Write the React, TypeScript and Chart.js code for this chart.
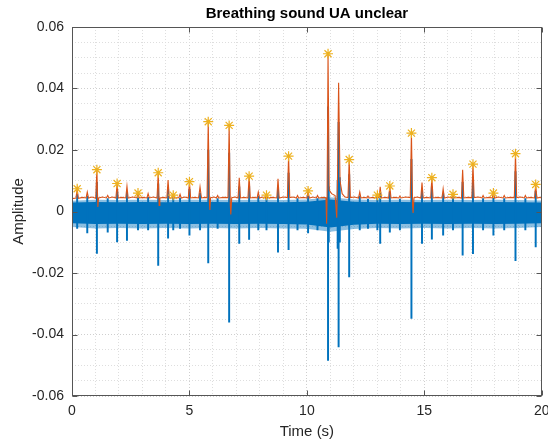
import { useEffect, useRef } from 'react';
import { Chart, registerables } from 'chart.js';

Chart.register(...registerables);

const W = 548;
const H = 446;
const FONT = "'Liberation Sans', Arial, Helvetica, sans-serif";

// Axis ticks that carry labels
const xTicks = [0, 5, 10, 15, 20];
const yTicks = [-0.06, -0.04, -0.02, 0, 0.02, 0.04, 0.06];

// Detected breath peaks (asterisks)
const starTimes = [0.22, 1.06, 1.92, 2.81, 3.67, 4.31, 5.0, 5.8, 6.69, 7.54, 8.28, 9.22, 10.05, 10.9, 11.8, 13.0, 13.53, 14.45, 15.32, 16.22, 17.07, 17.94, 18.88, 19.74];
const starPeaks = [0.0074, 0.0136, 0.0091, 0.006, 0.0126, 0.0053, 0.0097, 0.0292, 0.028, 0.0115, 0.0053, 0.018, 0.0067, 0.0513, 0.0169, 0.0053, 0.0083, 0.0255, 0.011, 0.0056, 0.0154, 0.006, 0.0188, 0.0088];

// Raw signal transients: time, positive excursion, negative excursion
const spikeTimes = [0.22, 0.65, 1.06, 1.52, 1.92, 2.34, 2.81, 3.24, 3.67, 4.09, 4.31, 4.6, 5.0, 5.45, 5.8, 6.2, 6.69, 7.12, 7.54, 7.93, 8.28, 8.77, 9.22, 9.6, 10.05, 10.45, 10.9, 10.93, 11.31, 11.35, 11.4, 11.8, 12.25, 12.6, 13.0, 13.12, 13.53, 13.96, 14.45, 14.9, 15.32, 15.8, 16.22, 16.63, 17.07, 17.5, 17.94, 18.4, 18.88, 19.3, 19.74];
const spikeHigh = [0.0055, 0.005, 0.0095, 0.0042, 0.0068, 0.0062, 0.0048, 0.0046, 0.009, 0.0074, 0.0044, 0.0044, 0.0072, 0.006, 0.02, 0.0042, 0.019, 0.008, 0.0082, 0.005, 0.0044, 0.0076, 0.0125, 0.0042, 0.0054, 0.0042, 0.034, 0.008, 0.01, 0.029, 0.011, 0.012, 0.005, 0.004, 0.0044, 0.0062, 0.0062, 0.004, 0.017, 0.007, 0.008, 0.0058, 0.0045, 0.0095, 0.0105, 0.0042, 0.0048, 0.0042, 0.013, 0.0042, 0.0066];
const spikeLow = [-0.0055, -0.007, -0.0136, -0.0067, -0.0099, -0.0094, -0.006, -0.006, -0.0175, -0.0087, -0.006, -0.0055, -0.0077, -0.006, -0.0167, -0.0055, -0.036, -0.0104, -0.0091, -0.006, -0.006, -0.0132, -0.0124, -0.006, -0.007, -0.006, -0.0484, -0.01, -0.012, -0.044, -0.01, -0.0213, -0.006, -0.0055, -0.006, -0.0104, -0.0067, -0.006, -0.0348, -0.0104, -0.009, -0.0077, -0.006, -0.0142, -0.0137, -0.006, -0.0077, -0.006, -0.016, -0.006, -0.0115];

// Background breathing noise band (solid core and softer fringe)
const bandTimes = [0, 1, 2, 3, 4, 5, 6, 7, 8, 9, 10, 11, 12, 13, 14, 15, 16, 17, 18, 19, 20];
const bandHigh = [0.0029, 0.0031, 0.003, 0.0031, 0.003, 0.0031, 0.0031, 0.003, 0.0031, 0.003, 0.0032, 0.0039, 0.0032, 0.003, 0.0031, 0.003, 0.0031, 0.003, 0.0031, 0.003, 0.0029];
const bandLow = [-0.0038, -0.0041, -0.004, -0.0041, -0.004, -0.0041, -0.004, -0.0041, -0.004, -0.0041, -0.0042, -0.0052, -0.0043, -0.004, -0.0041, -0.004, -0.0041, -0.004, -0.0041, -0.004, -0.0038];
const fringeHigh = [0.0035, 0.0038, 0.0037, 0.0038, 0.0037, 0.0038, 0.0038, 0.0037, 0.0038, 0.0037, 0.0039, 0.0046, 0.0039, 0.0037, 0.0038, 0.0037, 0.0038, 0.0037, 0.0038, 0.0037, 0.0036];
const fringeLow = [-0.005, -0.0055, -0.0054, -0.0055, -0.0054, -0.0055, -0.0054, -0.0055, -0.0054, -0.0055, -0.0056, -0.0066, -0.0057, -0.0054, -0.0055, -0.0054, -0.0055, -0.0054, -0.0055, -0.0054, -0.005];

// Peak envelope of the signal: [time, amplitude]
const envelope: [number, number][] = [
  [0, 0.0042], [0.17, 0.0044], [0.22, 0.0074], [0.27, 0.0043], [0.45, 0.0046], [0.6, 0.0044], [0.65, 0.0063], [0.7, 0.0044],
  [0.85, 0.0047], [1.01, 0.0043], [1.06, 0.0136], [1.1, 0.0015], [1.13, 0.0044], [1.3, 0.0047], [1.46, 0.0044], [1.52, 0.0052],
  [1.57, 0.0044], [1.72, 0.0047], [1.87, 0.0044], [1.92, 0.0091], [1.97, 0.0044], [2.12, 0.0046], [2.29, 0.0044], [2.34, 0.0082],
  [2.39, 0.0044], [2.58, 0.0047], [2.76, 0.0044], [2.81, 0.006], [2.86, 0.0044], [3.02, 0.0046], [3.19, 0.0044], [3.24, 0.0058],
  [3.29, 0.0044], [3.46, 0.0047], [3.62, 0.0044], [3.67, 0.0126], [3.71, 0.002], [3.74, 0.0044], [3.9, 0.0046], [4.04, 0.0044],
  [4.09, 0.0102], [4.14, 0.0044], [4.26, 0.0044], [4.31, 0.0053], [4.36, 0.0044], [4.55, 0.0045], [4.6, 0.0056], [4.65, 0.0044],
  [4.8, 0.0047], [4.95, 0.0044], [5.0, 0.0097], [5.05, 0.0044], [5.22, 0.0046], [5.39, 0.0044], [5.45, 0.008], [5.51, 0.0044],
  [5.65, 0.0046], [5.75, 0.0045], [5.8, 0.0292], [5.85, 0.003], [5.87, 0.0005], [5.9, 0.0045], [6.05, 0.0047], [6.15, 0.0044],
  [6.2, 0.0052], [6.25, 0.0044], [6.45, 0.0046], [6.64, 0.0045], [6.69, 0.028], [6.74, 0.002], [6.76, -0.001], [6.8, 0.0045],
  [6.95, 0.0047], [7.07, 0.0044], [7.12, 0.011], [7.17, 0.0044], [7.32, 0.0046], [7.49, 0.0044], [7.54, 0.0115], [7.59, 0.0044],
  [7.75, 0.0046], [7.88, 0.0044], [7.93, 0.0063], [7.98, 0.0044], [8.12, 0.0047], [8.23, 0.0044], [8.28, 0.0053], [8.33, 0.0044],
  [8.52, 0.0046], [8.72, 0.0044], [8.77, 0.0106], [8.82, 0.0044], [9.0, 0.0047], [9.17, 0.0045], [9.22, 0.018], [9.27, 0.0045],
  [9.42, 0.0047], [9.55, 0.0044], [9.6, 0.0052], [9.65, 0.0044], [9.85, 0.0046], [10.0, 0.0044], [10.05, 0.0067], [10.1, 0.0044],
  [10.26, 0.0047], [10.4, 0.0044], [10.45, 0.0052], [10.5, 0.0044], [10.7, 0.0046], [10.81, 0.0045], [10.84, -0.004], [10.86, 0.005],
  [10.9, 0.0513], [10.95, 0.007], [11.05, 0.0058], [11.2, 0.0052], [11.27, -0.002], [11.3, 0.009], [11.35, 0.0419], [11.41, 0.01],
  [11.5, 0.0058], [11.62, 0.0047], [11.75, 0.0045], [11.8, 0.0169], [11.85, 0.0045], [12.02, 0.0047], [12.2, 0.0044], [12.25, 0.0063],
  [12.3, 0.0044], [12.45, 0.0046], [12.55, 0.0044], [12.6, 0.005], [12.65, 0.0044], [12.82, 0.0046], [12.95, 0.0044], [13.0, 0.0053],
  [13.05, 0.0046], [13.08, 0.0046], [13.12, 0.008], [13.17, 0.0044], [13.35, 0.0046], [13.48, 0.0044], [13.53, 0.0083], [13.58, 0.0044],
  [13.75, 0.0046], [13.91, 0.0044], [13.96, 0.005], [14.01, 0.0044], [14.2, 0.0047], [14.4, 0.0045], [14.45, 0.0255], [14.5, 0.002],
  [14.52, -0.0005], [14.56, 0.0045], [14.7, 0.0047], [14.85, 0.0044], [14.9, 0.0094], [14.95, 0.0044], [15.1, 0.0046], [15.27, 0.0044],
  [15.32, 0.011], [15.37, 0.0044], [15.55, 0.0046], [15.75, 0.0044], [15.8, 0.0074], [15.85, 0.0044], [16.02, 0.0047], [16.17, 0.0044],
  [16.22, 0.0056], [16.27, 0.0044], [16.45, 0.0046], [16.58, 0.0044], [16.63, 0.0136], [16.68, 0.0044], [16.85, 0.0046], [17.02, 0.0045],
  [17.07, 0.0154], [17.12, 0.0045], [17.3, 0.0047], [17.45, 0.0044], [17.5, 0.0052], [17.55, 0.0044], [17.75, 0.0046], [17.89, 0.0044],
  [17.94, 0.006], [17.99, 0.0044], [18.15, 0.0047], [18.35, 0.0044], [18.4, 0.0052], [18.45, 0.0044], [18.65, 0.0046], [18.83, 0.0045],
  [18.88, 0.0188], [18.93, 0.0045], [19.1, 0.0047], [19.25, 0.0044], [19.3, 0.0052], [19.35, 0.0044], [19.52, 0.0046], [19.69, 0.0044],
  [19.74, 0.0088], [19.79, 0.0044], [19.92, 0.0046], [20, 0.0043],
];

const BLUE = '#0072BD';
const ORANGE = '#D95319';
const GOLD = '#EDB120';
const TEXT = '#262626';
const FRAME = '#555555';

const isLabeled = (v: number, list: number[]) => list.some((t) => Math.abs(t - v) < 1e-9);

const fmtY = (v: number) => (Math.abs(v) < 1e-9 ? '0' : v.toFixed(2));

// Box around the plot area with inward-pointing major ticks
const axesFrame = {
  id: 'axesFrame',
  afterDatasetsDraw(chart: any) {
    const { ctx, chartArea: a, scales } = chart;
    const l = Math.round(a.left) + 0.5;
    const r = Math.round(a.right) - 0.5;
    const t = Math.round(a.top) + 0.5;
    const b = Math.round(a.bottom) - 0.5;
    const len = 5;
    ctx.save();
    ctx.strokeStyle = FRAME;
    ctx.lineWidth = 1;
    ctx.setLineDash([]);
    ctx.strokeRect(l, t, r - l, b - t);
    ctx.beginPath();
    xTicks.forEach((v) => {
      const px = Math.round(scales.x.getPixelForValue(v)) + 0.5;
      ctx.moveTo(px, b);
      ctx.lineTo(px, b - len);
      ctx.moveTo(px, t);
      ctx.lineTo(px, t + len);
    });
    yTicks.forEach((v) => {
      const py = Math.round(scales.y.getPixelForValue(v)) + 0.5;
      ctx.moveTo(l, py);
      ctx.lineTo(l + len, py);
      ctx.moveTo(r, py);
      ctx.lineTo(r - len, py);
    });
    ctx.stroke();
    ctx.restore();
  },
};

export default function App() {
  const ref = useRef<HTMLCanvasElement>(null);

  useEffect(() => {
    const pts = (ts: number[], vs: number[]) => ts.map((x, i) => ({ x, y: vs[i] }));
    const area = { pointRadius: 0, borderWidth: 0, borderColor: 'transparent', tension: 0 };

    const chart = new Chart(ref.current as HTMLCanvasElement, {
      type: 'line',
      data: {
        datasets: [
          { ...area, data: pts(bandTimes, fringeHigh), fill: '+1', backgroundColor: 'rgba(0,114,189,0.45)', order: 6 },
          { ...area, data: pts(bandTimes, fringeLow), fill: false, order: 6 },
          { ...area, data: pts(bandTimes, bandHigh), fill: '+1', backgroundColor: BLUE, order: 5 },
          { ...area, data: pts(bandTimes, bandLow), fill: false, order: 5 },
          {
            type: 'bar',
            data: spikeTimes.map((x, i) => ({ x, y: [spikeLow[i], spikeHigh[i]] })),
            backgroundColor: BLUE,
            borderWidth: 0,
            barThickness: 1.3,
            order: 4,
          } as any,
          {
            data: envelope.map(([x, y]) => ({ x, y })),
            borderColor: ORANGE,
            borderWidth: 1.1,
            pointRadius: 0,
            tension: 0,
            fill: false,
            order: 2,
          },
          {
            data: pts(starTimes, starPeaks),
            showLine: false,
            pointStyle: 'star',
            pointRadius: 5,
            pointBorderWidth: 1.2,
            pointBorderColor: GOLD,
            pointBackgroundColor: GOLD,
            order: 1,
          },
        ],
      },
      options: {
        responsive: false,
        devicePixelRatio: 1,
        animation: false,
        events: [],
        layout: { padding: { left: 0, top: 0, right: 6, bottom: 0 } },
        plugins: {
          legend: { display: false },
          tooltip: { enabled: false },
          title: {
            display: true,
            text: 'Breathing sound UA unclear',
            color: '#000',
            fullSize: false,
            font: { family: FONT, size: 15, weight: 'bold' },
            padding: { top: 5, bottom: 4 },
          },
        },
        scales: {
          x: {
            type: 'linear',
            min: 0,
            max: 20,
            offset: false,
            ticks: {
              stepSize: 1,
              autoSkip: false,
              maxRotation: 0,
              padding: 7,
              color: TEXT,
              font: { family: FONT, size: 14 },
              callback: (v: any) => (isLabeled(Number(v), xTicks) ? String(v) : ''),
            },
            grid: {
              offset: false,
              drawTicks: false,
              lineWidth: 1,
              color: (c: any) => (c.tick && isLabeled(c.tick.value, xTicks) ? '#cfcfcf' : '#dedede'),
            },
            border: { display: false, dash: [1, 2] },
            title: {
              display: true,
              text: 'Time (s)',
              color: TEXT,
              font: { family: FONT, size: 15 },
              padding: { top: 0, bottom: 5 },
            },
            afterFit: (s: any) => {
              s.height = 50;
              s.paddingLeft = 0;
              s.paddingRight = 0;
            },
          },
          y: {
            type: 'linear',
            min: -0.06,
            max: 0.06,
            ticks: {
              stepSize: 0.005,
              maxTicksLimit: 100,
              autoSkip: false,
              padding: 8,
              color: TEXT,
              font: { family: FONT, size: 14 },
              callback: (v: any) => (isLabeled(Number(v), yTicks) ? fmtY(Number(v)) : ''),
            },
            grid: {
              drawTicks: false,
              lineWidth: 1,
              color: (c: any) => (c.tick && isLabeled(c.tick.value, yTicks) ? '#cfcfcf' : '#dedede'),
            },
            border: { display: false, dash: [1, 2] },
            title: {
              display: true,
              text: 'Amplitude',
              color: TEXT,
              font: { family: FONT, size: 15 },
              padding: { top: 10, bottom: 0 },
            },
            afterFit: (s: any) => {
              s.width = 72;
              s.paddingTop = 0;
              s.paddingBottom = 0;
            },
          },
        },
      } as any,
      plugins: [axesFrame],
    });

    return () => chart.destroy();
  }, []);

  return (
    <div style={{ position: 'fixed', left: 0, top: 0, width: W, height: H, background: '#fff' }}>
      <canvas ref={ref} width={W} height={H} style={{ display: 'block', width: W, height: H }} />
    </div>
  );
}
